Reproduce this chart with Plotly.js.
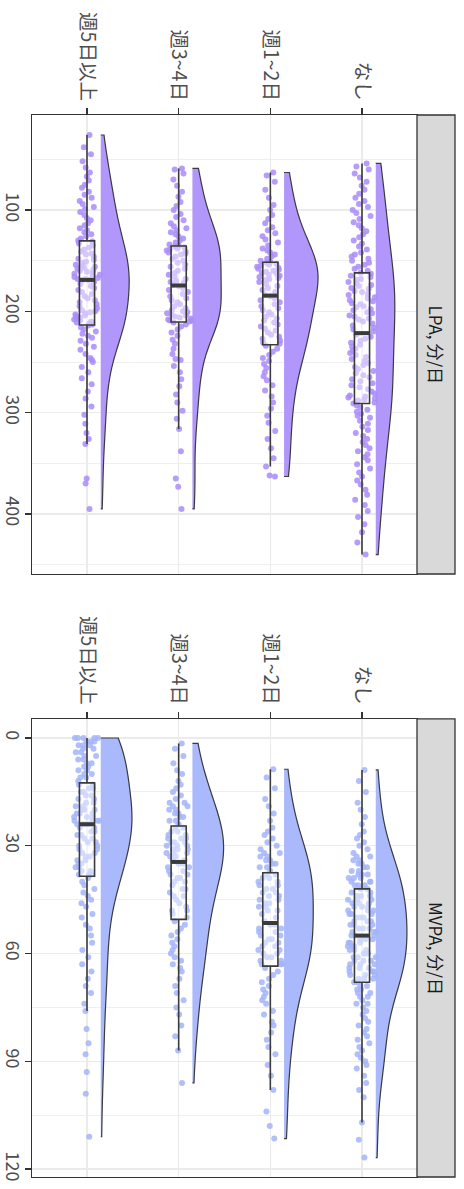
<!DOCTYPE html>
<html>
<head>
<meta charset="utf-8">
<script src="https://cdn.plot.ly/plotly-3.0.1.min.js"></script>
<style>
  html, body { margin: 0; padding: 0; background: #ffffff; }
  #chart { width: 464px; height: 1189px; }
</style>
</head>
<body>
<div id="chart"></div>
<script>
// Exercise-frequency groups (left to right)
const categories = ['週5日以上', '週3~4日', '週1~2日', 'なし'];
const facetLabels = ['LPA, 分/日', 'MVPA, 分/日'];

const lpaTicks = [100, 200, 300, 400];
const lpaMinorTicks = [50, 150, 250, 350, 450];
const mvpaTicks = [0, 30, 60, 90, 120];
const mvpaMinorTicks = [15, 45, 75, 105];

// LPA, minutes per day
const lpa5plus = [26,38,45,52,58,63,67,71,75,78,82,85,88,91,94,97,99,102,105,108,110,113,115,118,120,122,124,126,128,130,
  131,133,135,137,139,141,143,144,146,148,149,151,152,154,155,156,157,158,159,160,161,162,163,164,165,166,167,168,168,169,
  169,171,173,175,177,179,181,183,185,187,189,191,193,195,197,199,200,201,202,203,204,205,206,207,208,209,210,211,212,213,
  214,216,218,220,222,224,226,229,232,235,238,242,246,248,250,255,260,266,272,279,286,294,302,311,320,326,331,365,370,395];
const lpa3to4 = [59,60,64,70,76,82,87,92,96,100,104,107,110,113,116,118,120,122,124,126,128,130,132,134,135,
  136,137,138,139,140,141,142,143,144,146,148,150,152,154,156,158,160,162,164,166,168,170,171,172,174,
  175,177,179,181,183,185,187,189,191,193,195,197,199,200,201,202,203,204,205,206,207,208,209,209,210,
  211,213,215,218,221,224,228,232,237,242,247,248,254,260,267,274,282,290,298,306,316,338,365,373,395];
const lpa1to2 = [63,66,72,80,88,95,100,105,109,113,117,120,123,126,129,132,135,138,140,142,144,146,148,150,151,
  152,153,154,155,156,157,158,159,160,161,162,163,164,165,166,167,168,169,171,173,175,177,179,181,184,
  185,187,189,191,193,195,197,199,201,203,205,207,209,211,213,215,217,219,221,223,225,227,229,231,232,
  234,237,240,243,246,249,252,256,260,264,268,273,278,284,290,296,303,310,318,326,335,345,353,362,363];
const lpaNone = [54,57,60,64,68,72,76,80,84,88,91,94,97,100,103,106,109,112,115,118,121,124,127,130,133,136,139,142,144,146,148,150,152,154,156,158,160,
  162,163,165,166,168,169,171,172,174,175,177,178,180,181,183,184,186,187,189,190,192,193,195,196,198,199,201,202,204,205,207,208,210,212,214,216,218,220,
  223,225,227,229,231,233,235,237,239,241,243,245,247,249,251,253,255,257,259,261,263,265,267,269,271,273,275,277,279,281,283,284,285,286,287,288,290,
  291,293,295,297,299,301,303,305,308,311,314,317,320,323,326,329,332,335,338,341,344,347,351,355,359,363,367,371,376,381,386,391,397,403,410,418,428,440];

// MVPA, minutes per day
const mvpa5plus = [0,0,0,0,0,1,1,1,2,2,2,3,3,4,4,5,5,6,6,7,7,8,8,9,9,10,10,11,11,12,
  13,13,14,14,15,15,16,16,17,17,18,18,19,19,20,20,20,21,21,21,22,22,22,23,23,23,23,24,24,24,
  24,25,25,26,26,27,27,28,28,29,29,30,30,31,31,32,32,33,33,34,34,35,35,36,36,37,37,38,38,38,
  39,40,41,42,43,44,45,46,47,49,50,52,53,55,57,59,61,63,65,67,69,71,74,76,81,85,88,93,99,111];
const mvpa3to4 = [1.5,3,5,7,9,10,12,13,14,15,16,17,18,18,19,19,20,20,21,21,22,22,23,23,24,
  25,25,26,26,27,27,28,28,28,29,29,29,30,30,30,31,31,31,32,32,32,33,33,34,34,
  35,35,36,36,37,37,38,38,39,39,40,40,41,42,42,43,44,44,45,46,47,48,48,49,50,
  51,52,53,54,55,56,57,58,59,60,61,62,63,64,65,67,69,71,73,75,77,80,83,87,96];
const mvpa1to2 = [8.7,11,14,17,19,21,23,25,26,27,28,29,30,31,32,32,33,33,34,34,35,35,36,36,37,
  38,38,39,39,40,40,41,41,42,42,43,43,44,44,45,45,46,46,47,47,48,48,49,50,51,
  52,52,53,53,54,54,55,55,56,56,57,57,58,58,59,59,60,60,61,61,62,62,63,63,63,
  64,65,66,67,68,69,70,71,72,73,74,76,77,79,80,82,84,86,88,91,94,98,104,108,111.5];
const mvpaNone = [8.9,12,15,18,20,22,24,26,27,28,29,30,31,32,33,33,34,34,35,35,36,36,37,37,38,38,38,39,39,39,40,40,40,41,41,41,42,
  42,43,43,44,44,44,45,45,45,46,46,46,47,47,47,48,48,48,49,49,49,50,50,50,51,51,51,52,52,52,53,53,53,54,54,54,55,55,
  55,56,56,56,57,57,57,58,58,58,59,59,59,60,60,60,61,61,61,62,62,62,63,63,63,64,64,64,65,65,65,66,66,66,67,67,67,
  68,68,69,69,70,70,71,71,72,72,73,74,74,75,76,77,78,79,80,81,82,83,84,85,86,87,88,89,90,91,92,94,96,98,100,107,111.8,116.8];

const panels = [
  { groups: [lpa5plus, lpa3to4, lpa1to2, lpaNone], fill: '#b197fc', point: 'rgba(170,140,250,0.85)',
    halfWidth: [0.31, 0.314, 0.369, 0.208], xa: 'x', ya: 'y' },
  { groups: [mvpa5plus, mvpa3to4, mvpa1to2, mvpaNone], fill: '#a9b9fb', point: 'rgba(163,180,250,0.85)',
    halfWidth: [0.34, 0.34, 0.318, 0.34], xa: 'x2', ya: 'y2' }
];

const BOX_W = 0.165;       // box width (category units)
const JITTER_W = 0.31;     // spread of the raw points
const CLOUD_OFFSET = 0.15; // where the half-violin starts
const INK = '#3b3b3b';

function median(arr) {
  const s = arr.slice().sort((a, b) => a - b);
  const m = Math.floor(s.length / 2);
  return s.length % 2 ? s[m] : (s[m - 1] + s[m]) / 2;
}

const traces = [];
panels.forEach(p => {
  p.groups.forEach((vals, i) => {
    // half violin (density cloud)
    traces.push({
      type: 'violin', y: vals, x0: i + CLOUD_OFFSET, xaxis: p.xa, yaxis: p.ya,
      side: 'positive', width: 2 * p.halfWidth[i], spanmode: 'hard', scalemode: 'width',
      points: false, box: { visible: false }, meanline: { visible: false },
      fillcolor: p.fill, line: { color: INK, width: 1.2 },
      hoverinfo: 'skip', showlegend: false
    });
    // jittered raw points
    traces.push({
      type: 'box', y: vals, x0: i, xaxis: p.xa, yaxis: p.ya,
      width: JITTER_W, boxpoints: 'all', jitter: 1, pointpos: 0,
      marker: { color: p.point, size: 6, line: { width: 0 } },
      line: { color: 'rgba(0,0,0,0)', width: 0 }, fillcolor: 'rgba(0,0,0,0)',
      whiskerwidth: 0, hoverinfo: 'skip', showlegend: false
    });
  });
  p.groups.forEach((vals, i) => {
    // box with 1.5 IQR whiskers; outlier markers hidden (already in the cloud)
    traces.push({
      type: 'box', y: vals, x0: i, xaxis: p.xa, yaxis: p.ya,
      width: BOX_W, boxpoints: 'outliers', pointpos: 0, jitter: 0,
      marker: { color: 'rgba(0,0,0,0)', size: 0, line: { width: 0 } },
      whiskerwidth: 0,
      fillcolor: 'rgba(255,255,255,0.45)', line: { color: INK, width: 1.6 },
      hoverinfo: 'skip', showlegend: false
    });
    // thick median bar
    const m = median(vals);
    traces.push({
      type: 'scatter', mode: 'lines', xaxis: p.xa, yaxis: p.ya,
      x: [i - BOX_W / 2, i + BOX_W / 2], y: [m, m],
      line: { color: INK, width: 4 }, hoverinfo: 'skip', showlegend: false
    });
  });
});

const FONT = '"Noto Sans CJK JP", "Noto Sans", sans-serif';
const GRID = '#ebebeb';
const BORDER = '#333333';

function catAxis(anchor) {
  return {
    anchor: anchor, side: 'top', domain: [0, 1], range: [-0.6, 3.6],
    tickmode: 'array', tickvals: [0, 1, 2, 3], ticktext: categories, tickangle: 90,
    ticks: 'outside', ticklen: 6, tickwidth: 1.3, tickcolor: BORDER,
    tickfont: { family: FONT, size: 19.5, color: '#4d4d4d' },
    showgrid: true, gridcolor: GRID, gridwidth: 1.2, zeroline: false,
    showline: true, linecolor: BORDER, linewidth: 1.3, mirror: true, fixedrange: true
  };
}
function valAxis(anchor, domain, range, ticks, minorTicks) {
  return {
    anchor: anchor, domain: domain, range: range,
    tickmode: 'array', tickvals: ticks, tickangle: 90,
    ticks: 'outside', ticklen: 6, tickwidth: 1.3, tickcolor: BORDER,
    ticklabelstandoff: -3,
    tickfont: { family: FONT, size: 18, color: '#4d4d4d' },
    showgrid: true, gridcolor: GRID, gridwidth: 1.2, zeroline: false,
    minor: { tickmode: 'array', tickvals: minorTicks, showgrid: true, gridcolor: GRID, gridwidth: 0.8, ticks: '' },
    showline: true, linecolor: BORDER, linewidth: 1.3, mirror: true, fixedrange: true
  };
}

const topDomain = [0.5678, 1];
const botDomain = [0, 0.4313];
const stripX0 = 1, stripX1 = 1.0987, stripMid = 1.0494;

const layout = {
  width: 464, height: 1189,
  margin: { l: 32, r: 47, t: 115, b: 12 },
  paper_bgcolor: '#ffffff', plot_bgcolor: '#ffffff',
  boxmode: 'overlay', violinmode: 'overlay', showlegend: false,
  font: { family: FONT },
  xaxis: catAxis('y'),
  yaxis: valAxis('x', topDomain, [459.2, 6.25], lpaTicks, lpaMinorTicks),
  xaxis2: catAxis('y2'),
  yaxis2: valAxis('x2', botDomain, [122.2, -5.3], mvpaTicks, mvpaMinorTicks),
  shapes: [topDomain, botDomain].map(d => ({
    type: 'rect', xref: 'paper', yref: 'paper', x0: stripX0, x1: stripX1, y0: d[0], y1: d[1],
    fillcolor: '#d9d9d9', line: { color: BORDER, width: 1.3 }, layer: 'above'
  })),
  annotations: [topDomain, botDomain].map((d, k) => ({
    xref: 'paper', yref: 'paper', x: stripMid, y: (d[0] + d[1]) / 2,
    text: facetLabels[k], textangle: 90, showarrow: false,
    xanchor: 'center', yanchor: 'middle',
    font: { family: FONT, size: 17, color: '#1a1a1a' }
  }))
};

Plotly.newPlot('chart', traces, layout, { staticPlot: true, displayModeBar: false });
</script>
</body>
</html>
